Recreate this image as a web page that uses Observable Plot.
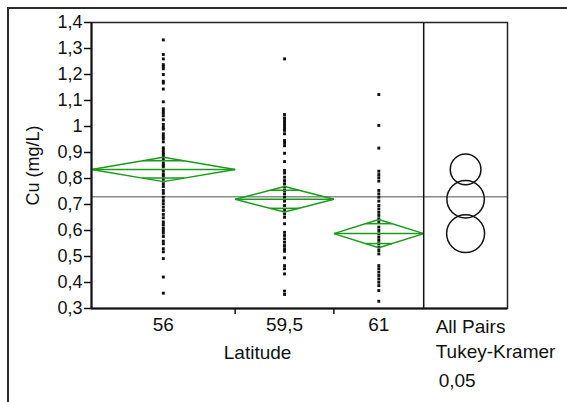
<!DOCTYPE html>
<html>
<head>
<meta charset="utf-8">
<script src="https://cdn.jsdelivr.net/npm/d3@7"></script>
<script src="https://cdn.jsdelivr.net/npm/@observablehq/plot@0.6"></script>
<style>
  html, body { margin: 0; padding: 0; background: #fff; }
  #wrap { position: relative; width: 567px; height: 402px; overflow: hidden; }
  #frame { position: absolute; left: 7px; top: 7px; width: 600px; height: 420px;
           border-left: 2px solid #2b2b2b; border-top: 2px solid #2b2b2b; }
  #chart { position: absolute; left: 0; top: 0; }
  #chart svg { font-family: "Liberation Sans", Arial, sans-serif; }
</style>
</head>
<body>
<div id="wrap"><div id="frame"></div><div id="chart"></div></div>
<script>
// Latitude groups, sample sizes (they set each group's width) and Cu readings
const latitudes = ["56", "59,5", "61"];
const groupN = [48, 33, 30];

const cu56 = [1.333, 1.277, 1.26, 1.238, 1.231, 1.222, 1.2, 1.174, 1.167, 1.144,
  1.095, 1.068, 1.059, 1.051, 1.041, 1.026, 1.008, 0.997, 0.99, 0.972, 0.962, 0.953,
  0.941, 0.918, 0.91, 0.9, 0.892, 0.882, 0.872, 0.859, 0.851, 0.845, 0.83, 0.818,
  0.81, 0.797, 0.78, 0.769, 0.754, 0.743, 0.728, 0.715, 0.703, 0.69, 0.677, 0.662,
  0.649, 0.633, 0.623, 0.61, 0.6, 0.59, 0.577, 0.559, 0.549, 0.53, 0.518, 0.492,
  0.421, 0.359];
const cu595 = [1.26, 1.046, 1.033, 1.023, 1.013, 1.004, 0.995, 0.985, 0.972, 0.946,
  0.936, 0.926, 0.897, 0.865, 0.831, 0.821, 0.805, 0.792, 0.78, 0.767, 0.754, 0.741,
  0.728, 0.713, 0.696, 0.677, 0.664, 0.651, 0.626, 0.593, 0.581, 0.568, 0.555, 0.542,
  0.53, 0.52, 0.495, 0.465, 0.453, 0.433, 0.367, 0.354];
const cu61 = [1.123, 1.004, 0.917, 0.828, 0.815, 0.803, 0.79, 0.754, 0.741, 0.728,
  0.713, 0.696, 0.683, 0.67, 0.658, 0.645, 0.632, 0.613, 0.6, 0.587, 0.574, 0.562,
  0.549, 0.536, 0.523, 0.51, 0.465, 0.453, 0.44, 0.427, 0.414, 0.401, 0.388, 0.369,
  0.328];
const cuByGroup = [cu56, cu595, cu61];

// Means diamonds (group mean and half-width of the 95% interval)
const groupMean = [0.835, 0.72, 0.588];
const ciHalf = [0.047, 0.049, 0.054];
// Tukey-Kramer comparison circles (radius in mg/L)
const circleRadius = [0.059, 0.072, 0.073];
const grandMean = 0.73;

const yTicks = [0.3, 0.4, 0.5, 0.6, 0.7, 0.8, 0.9, 1.0, 1.1, 1.2, 1.3, 1.4];
const panelWidth = 28; // comparison-circle panel, in the same units as n
const circleLabels = ["All Pairs", "Tukey-Kramer", "0,05"];

// Layout of groups along x: each spans its sample size
const starts = groupN.map((n, i) => d3.sum(groupN.slice(0, i)));
const total = d3.sum(groupN);
const groups = latitudes.map((lat, i) => ({
  lat, x0: starts[i], x1: starts[i] + groupN[i], xc: starts[i] + groupN[i] / 2,
  mean: groupMean[i], h: ciHalf[i], r: circleRadius[i]
}));

const points = groups.flatMap((g, i) => cuByGroup[i].map(v => ({x: g.xc, y: v})));

// Diamond outlines, mean lines and overlap marks as segments
const k = Math.SQRT1_2;
const segs = groups.flatMap(g => {
  const hw = (g.x1 - g.x0) / 2;
  const cw = hw * (1 - k);
  return [
    {x1: g.x0, y1: g.mean, x2: g.xc, y2: g.mean + g.h},
    {x1: g.xc, y1: g.mean + g.h, x2: g.x1, y2: g.mean},
    {x1: g.x1, y1: g.mean, x2: g.xc, y2: g.mean - g.h},
    {x1: g.xc, y1: g.mean - g.h, x2: g.x0, y2: g.mean},
    {x1: g.x0, y1: g.mean, x2: g.x1, y2: g.mean},
    {x1: g.xc - cw, y1: g.mean + g.h * k, x2: g.xc + cw, y2: g.mean + g.h * k},
    {x1: g.xc - cw, y1: g.mean - g.h * k, x2: g.xc + cw, y2: g.mean - g.h * k}
  ];
});

const fmt = d => String(+d.toFixed(2)).replace(".", ",");
const yDomain = [0.3, 1.4];
const plotTop = 22, plotBottom = 308;
const labelFont = 19;

const chart = Plot.plot({
  width: 567,
  height: 402,
  marginLeft: 91,
  marginRight: 60,
  marginTop: plotTop,
  marginBottom: 402 - plotBottom,
  x: {type: "linear", domain: [0, total + panelWidth], axis: null},
  y: {type: "linear", domain: yDomain, axis: null},
  r: {type: "linear", domain: [0, yDomain[1] - yDomain[0]], range: [0, plotBottom - plotTop]},
  style: {fontFamily: "Liberation Sans, Arial, sans-serif", color: "#111"},
  marks: [
    // grand mean across plot and circle panel
    Plot.ruleY([grandMean], {stroke: "#8a8a8a", strokeWidth: 1.5}),
    // raw observations
    Plot.dot(points, {x: "x", y: "y", symbol: "square", r: 1.65, fill: "#111", stroke: null}),
    // means diamonds
    Plot.link(segs, {x1: "x1", y1: "y1", x2: "x2", y2: "y2", stroke: "#1c9a1c", strokeWidth: 1.5}),
    // comparison circles
    Plot.dot(groups, {x: total + panelWidth / 2, y: "mean", r: "r", stroke: "#111", strokeWidth: 1.5, fill: "none"}),
    // frame and divider
    Plot.ruleX([total], {stroke: "#111", strokeWidth: 1.5}),
    Plot.frame({stroke: "#222", strokeWidth: 1.5}),
    Plot.ruleX([0], {stroke: "#111", strokeWidth: 2}),
    Plot.ruleY([yDomain[0]], {stroke: "#111", strokeWidth: 2}),
    // y axis
    Plot.axisY(yTicks, {tickSize: 7, tickPadding: 2, tickFormat: fmt, fontSize: 18, stroke: "#111", strokeWidth: 1.5}),
    // group separators on the x axis
    Plot.axisX(starts.slice(1), {tickSize: 6, tickFormat: () => "", stroke: "#111", strokeWidth: 1.5}),
    // group labels
    Plot.text(groups, {x: "xc", text: "lat", frameAnchor: "bottom", dy: 22, fontSize: labelFont, fill: "#111"}),
    Plot.text(["Latitude"], {x: total / 2, frameAnchor: "bottom", dy: 50, fontSize: labelFont, fill: "#111"}),
    Plot.text(["Cu (mg/L)"], {frameAnchor: "left", dx: -58, rotate: -90, textAnchor: "middle", fontSize: 18, fill: "#111"}),
    // comparison circle caption
    Plot.text([circleLabels[0]], {x: total, frameAnchor: "bottom", dx: 12, dy: 24, textAnchor: "start", fontSize: labelFont, fill: "#111"}),
    Plot.text([circleLabels[1]], {x: total, frameAnchor: "bottom", dx: 12, dy: 49, textAnchor: "start", fontSize: labelFont, fill: "#111"}),
    Plot.text([circleLabels[2]], {x: total, frameAnchor: "bottom", dx: 15, dy: 78, textAnchor: "start", fontSize: labelFont, fill: "#111"})
  ]
});
document.getElementById("chart").appendChild(chart);
</script>
</body>
</html>
